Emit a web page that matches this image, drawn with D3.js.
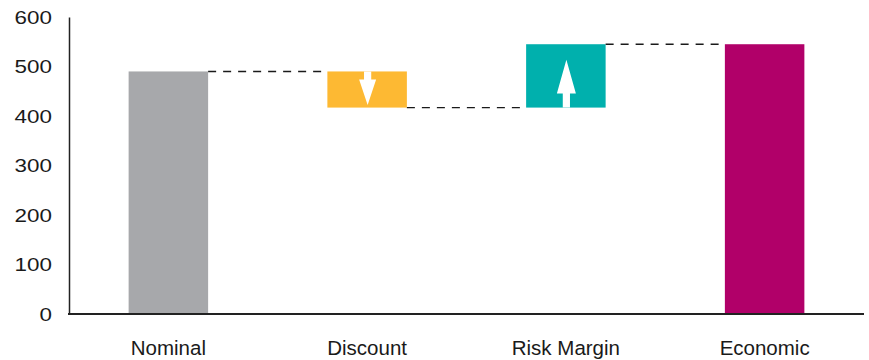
<!DOCTYPE html>
<html><head><meta charset="utf-8">
<script src="https://cdn.jsdelivr.net/npm/d3@7"></script>
<style>body{margin:0;background:#fff}svg{display:block}</style>
</head><body>
<svg id="chart" width="869" height="360"></svg>
<script>
const categories = ["Nominal", "Discount", "Risk Margin", "Economic"];
const changes = [490, -73, 128, 545];          // Economic is a total
const kinds = ["total", "delta", "delta", "total"];
const colors = ["#a7a8ab", "#fdb933", "#00b0ad", "#b10069"];
const yTicks = [0, 100, 200, 300, 400, 500, 600];

// build waterfall ranges
let run = 0;
const bars = categories.map((c, i) => {
  let lo, hi;
  if (kinds[i] === "total") { lo = 0; hi = changes[i]; run = changes[i]; }
  else { const s = run; run = s + changes[i]; lo = Math.min(s, run); hi = Math.max(s, run); }
  return {cat: c, lo, hi, end: run, delta: kinds[i] === "delta" ? changes[i] : 0, color: colors[i]};
});

const svg = d3.select("#chart");
const x = d3.scaleBand().domain(categories).range([69, 864]).paddingInner(0.6).paddingOuter(0.3);
const y = d3.scaleLinear().domain([0, 600]).range([314, 17]);

// bars
svg.selectAll("rect.bar").data(bars).enter().append("rect")
  .attr("x", d => x(d.cat)).attr("width", x.bandwidth())
  .attr("y", d => y(d.hi)).attr("height", d => y(d.lo) - y(d.hi))
  .attr("fill", d => d.color);

// connectors
svg.selectAll("line.conn").data(bars.slice(0, -1)).enter().append("line")
  .attr("x1", d => x(d.cat) + x.bandwidth())
  .attr("x2", (d, i) => x(categories[i + 1]))
  .attr("y1", d => y(d.end)).attr("y2", d => y(d.end))
  .attr("stroke", "#1a1a1a").attr("stroke-width", 1.4).attr("stroke-dasharray", "8,7");

// arrows inside delta bars
bars.filter(d => d.delta !== 0).forEach(d => {
  const cx = x(d.cat) + x.bandwidth() / 2 + 0.5;
  const sw = 3.6;
  let pts;
  if (d.delta < 0) {
    const top = y(d.hi), tip = y(d.lo) - 2.5, hb = top + 8, hw = 8.5;
    pts = [[cx - sw, top], [cx + sw, top], [cx + sw, hb], [cx + hw, hb], [cx, tip], [cx - hw, hb], [cx - sw, hb]];
  } else {
    const bot = y(d.lo), tip = y(d.hi) + 15.5, hb = bot - 14, hw = 9.5;
    pts = [[cx - sw, bot], [cx + sw, bot], [cx + sw, hb], [cx + hw, hb], [cx, tip], [cx - hw, hb], [cx - sw, hb]];
  }
  svg.append("polygon").attr("points", pts.map(p => p.join(",")).join(" ")).attr("fill", "#fff");
});

// axes
const yAxis = svg.append("g").attr("transform", "translate(69,0)")
  .call(d3.axisLeft(y).tickValues(yTicks).tickSize(0).tickPadding(0));
yAxis.select(".domain").attr("stroke", "#222").attr("stroke-width", 1.5);
yAxis.selectAll("text").attr("font-family", "Liberation Sans, Arial, sans-serif")
  .attr("font-size", 19).attr("fill", "#1a1a1a")
  .attr("transform", "translate(-17,0) scale(1.18,1)")
  .attr("x", 0).attr("text-anchor", "end");

const xAxis = svg.append("g").attr("transform", "translate(0,314)")
  .call(d3.axisBottom(x).tickSize(0).tickPadding(0));
xAxis.select(".domain").attr("stroke", "#222").attr("stroke-width", 1.8)
  .attr("d", "M68,0H864");
xAxis.selectAll("text").attr("font-family", "Liberation Sans, Arial, sans-serif")
  .attr("font-size", 20.5).attr("fill", "#1a1a1a").attr("dy", 0).attr("y", 41);
</script>
</body></html>
